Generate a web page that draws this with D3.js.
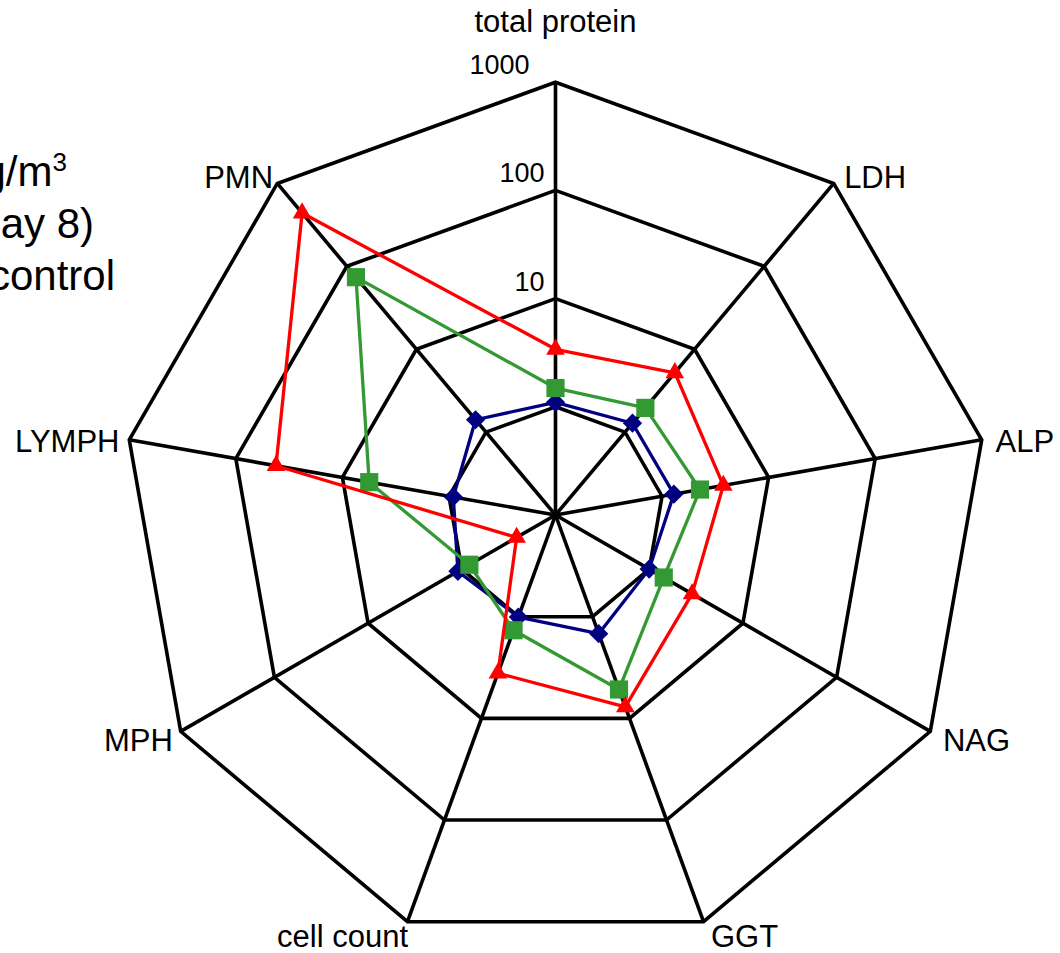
<!DOCTYPE html>
<meta charset="utf-8">
<html>
<head>
<title>Radar chart</title>
<style>
    body { margin: 0; background: #fff; }
    text { font-family: "Liberation Sans", Arial, sans-serif; fill: #000; }
    .grid { fill: none; stroke: #000; stroke-width: 3.6px; }
    .series { fill: none; stroke-width: 3.3px; stroke-linejoin: round; }
</style>
<script src="https://cdn.jsdelivr.net/npm/d3@7"></script>
</head>
<body>
<script>

    // axes clockwise from the top
    var axes = ["total protein", "LDH", "ALP", "NAG", "GGT", "cell count", "MPH", "LYMPH", "PMN"];

    // values (log radial scale)
    var control = [1.1, 1.28, 1.29, 1.0, 1.47, 1.01, 1.1, 0.91, 1.41];
    var day8    = [1.49, 1.96, 2.27, 1.43, 5.2, 1.36, 0.83, 5.6, 74];
    var dose    = [3.4, 5.2, 3.76, 2.87, 7.7, 3.6, 0.26, 42, 440];

    var rings = [1, 10, 100, 1000];
    var tickLabels = ["10", "100", "1000"];
    var legendLines = ["mg/m", "(day 8)", "control"];

    var width = 1060, height = 953;
    var cx = 555.5, cy = 515, R = 432.8;

    var svg = d3.select("body").append("svg")
        .attr("width", width)
        .attr("height", height);

    var r = d3.scaleLog().domain([0.1, 1000]).range([0, R]);
    var angle = d3.scaleLinear().domain([0, axes.length]).range([0, 2 * Math.PI]);

    var pt = function(i, v) {
        var a = angle(i);
        return [cx + r(v) * Math.sin(a), cy - r(v) * Math.cos(a)];
    }

    // rings
    svg.selectAll("path.ring")
      .data(rings)
      .enter().append("path")
      .attr("class", "grid")
      .attr("d", function(v) {
          return d3.line()(axes.map(function(a, i) { return pt(i, v); })) + "Z";
      });

    // spokes
    svg.selectAll("line.spoke")
      .data(axes)
      .enter().append("line")
      .attr("class", "grid")
      .attr("x1", cx).attr("y1", cy)
      .attr("x2", function(d, i) { return pt(i, 1000)[0]; })
      .attr("y2", function(d, i) { return pt(i, 1000)[1]; });

    // tick labels on the top spoke
    svg.selectAll("text.tick")
      .data(tickLabels)
      .enter().append("text")
      .attr("text-anchor", "end")
      .attr("font-size", "27px")
      .attr("x", function(d) { return cx - (d == "1000" ? 26 : 11); })
      .attr("y", function(d) { return pt(0, +d)[1] - 8; })
      .text(function(d) { return d; });

    // axis labels
    svg.selectAll("text.axis")
      .data(axes)
      .enter().append("text")
      .attr("font-size", "31px")
      .attr("text-anchor", function(d, i) {
          var s = Math.sin(angle(i));
          return Math.abs(s) < 0.1 ? "middle" : (s > 0 ? "start" : "end");
      })
      .attr("x", function(d, i) {
          var s = Math.sin(angle(i));
          var p = pt(i, 1000);
          if (Math.abs(s) < 0.1) return p[0];
          return p[0] + (s > 0 ? 4 + 10 * s : 6 + 16 * s);
      })
      .attr("y", function(d, i) {
          var c = Math.cos(angle(i));
          var p = pt(i, 1000);
          if (Math.abs(Math.sin(angle(i))) < 0.1) return p[1] - 50;
          return p[1] + 14 - 12 * c;
      })
      .text(function(d) { return d; });

    var series = [
        { values: control, color: "#000080", shape: "diamond" },
        { values: day8,    color: "#339933", shape: "square" },
        { values: dose,    color: "#ff0000", shape: "triangle" }
    ];

    var symbolPath = function(shape) {
        if (shape == "square") return d3.symbol(d3.symbolSquare, 330)();
        if (shape == "triangle") return d3.symbol(d3.symbolTriangle, 150)();
        return d3.symbol(d3.symbolSquare, 185)();
    }

    series.forEach(function(s) {
        var pts = s.values.map(function(v, i) { return pt(i, v); });
        svg.append("path")
          .attr("class", "series")
          .attr("stroke", s.color)
          .attr("d", d3.line()(pts) + "Z");

        svg.selectAll(null)
          .data(pts)
          .enter().append("path")
          .attr("d", symbolPath(s.shape))
          .attr("fill", s.color)
          .attr("transform", function(p) {
              return "translate(" + p[0] + "," + p[1] + ")" + (s.shape == "diamond" ? " rotate(45)" : "");
          });
    });

    // legend (runs off the left edge, as in the source)
    var legend = svg.append("g").attr("font-size", "42px");
    var ends = [67, 94, 115];
    legend.selectAll("text")
      .data(legendLines)
      .enter().append("text")
      .attr("text-anchor", "end")
      .attr("x", function(d, i) { return ends[i]; })
      .attr("y", function(d, i) { return 186 + i * 52; })
      .each(function(d, i) {
          var t = d3.select(this);
          if (i == 0) {
              t.append("tspan").text("1 " + d);
              t.append("tspan").attr("font-size", "26px").attr("dy", "-15").text("3");
          } else {
              t.text(d);
          }
      });

</script>
</body>
</html>
